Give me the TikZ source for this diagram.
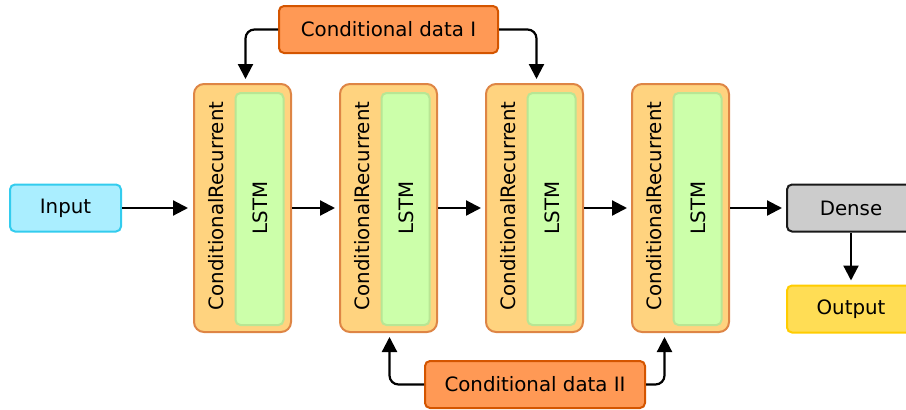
\documentclass[tikz,border=0pt]{standalone}
\usepackage{fontspec}
\setmainfont{DejaVu Sans}
\usepackage{xcolor}
\usetikzlibrary{positioning,arrows.meta}

\definecolor{conddata}{HTML}{FF9955}
\definecolor{condline}{HTML}{D45500}
\definecolor{recfill}{HTML}{FFD37F}
\definecolor{recline}{HTML}{DE8545}
\definecolor{lstmfill}{HTML}{CCFFAA}
\definecolor{lstmline}{HTML}{B8E694}
\definecolor{infill}{HTML}{AAEEFF}
\definecolor{inline}{HTML}{33CCEE}
\definecolor{densefill}{HTML}{CCCCCC}
\definecolor{outfill}{HTML}{FFDD55}
\definecolor{outline}{HTML}{FFCC00}

\begin{document}
\begin{tikzpicture}[
            x=1pt, y=-1pt,
            every node/.style={font=\fontsize{19.8}{23}\selectfont, line width=2pt, rounded corners=5pt},
            box/.style={draw, minimum height=47pt, inner sep=0pt},
            cond/.style={box, fill=conddata, draw=condline, minimum width=219pt},
            recblock/.style={draw=recline, fill=recfill, rounded corners=10pt, minimum width=97pt, minimum height=248pt},
            lstmbox/.style={draw=lstmline, fill=lstmfill, minimum width=48pt, minimum height=232pt},
            link/.style={line width=2.2pt, -{Triangle[length=15pt,width=15pt]}},
            elbow/.style={link, rounded corners=9pt}
        ]
        \useasboundingbox (0,0) rectangle (906,410);

        % Nodes
        \node (cd1) [cond] at (388.5,29.5) {Conditional data I};
        \node (input) [box, fill=infill, draw=inline, minimum width=111pt] at (65.5,208) {Input};
        \foreach \i/\x in {1/242.5, 2/388.5, 3/534.5, 4/680.5} {
            \node (cr\i) [recblock] at (\x,208) {};
            \node (lstm\i) [lstmbox] at (\x+17,209) {};
            \node (crlabel\i) [rotate=90, inner sep=0pt] at (\x-26,206) {ConditionalRecurrent};
            \node (lstmlabel\i) [rotate=90, inner sep=0pt] at (\x+18,208) {LSTM};
        }
        \node (cd2) [cond, minimum width=220pt] at (535,384.5) {Conditional data II};
        \node (dense) [box, fill=densefill, draw=black!90, minimum width=128pt] at (851,208) {Dense};
        \node (output) [box, fill=outfill, draw=outline, minimum width=128pt, below=52pt of dense] {Output};

        % Arrows
        \draw [link, shorten >=5pt] (input) -- (cr1);
        \draw [link, shorten >=4pt] (cr1) -- (cr2);
        \draw [link, shorten >=4pt] (cr2) -- (cr3);
        \draw [link, shorten >=4pt] (cr3) -- (cr4);
        \draw [link, shorten >=4pt] (cr4) -- (dense);
        \draw [link, shorten >=4pt] (dense) -- (output);
        \draw [elbow, shorten >=4pt] (cd1.west) -| ([xshift=3pt]cr1.north);
        \draw [elbow, shorten >=4pt] (cd1.east) -| ([xshift=2pt]cr3.north);
        \draw [elbow, shorten >=4pt] (cd2.west) -| ([xshift=1pt]cr2.south);
        \draw [elbow, shorten >=4pt] (cd2.east) -| ([xshift=-16pt]cr4.south);
        \end{tikzpicture}
\end{document}
